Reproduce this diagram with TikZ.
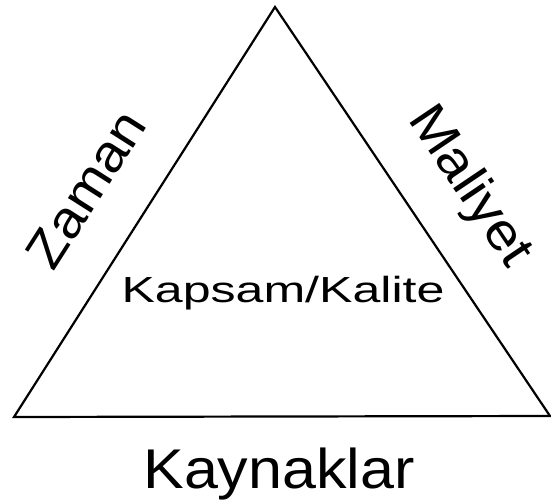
\documentclass[tikz,border=0pt]{standalone}
\usepackage{fontspec}
\setmainfont{Liberation Sans}
\begin{document}
\begin{tikzpicture}[x=1pt,y=-1pt,
  side/.style={line width=2.2pt, line join=miter},
  lbl/.style={inner sep=0pt, font=\fontsize{52}{56}\selectfont}]
\useasboundingbox (0,0) rectangle (551,500);
\coordinate (top) at (275,7);
\coordinate (bl) at (14,417);
\coordinate (br) at (550,416);
\draw[side] (top) -- (br) -- (bl) -- cycle;
\node[lbl, rotate=57.5, xscale=1.08] (zaman) at (86,189) {Zaman};
\node[lbl, rotate=-56, xscale=1.1] (maliyet) at (469,187) {Maliyet};
\node[inner sep=0pt, anchor=base, font=\fontsize{36.3}{40}\selectfont, xscale=1.38] (kapsam) at (283,302) {Kapsam/Kalite};
\node[inner sep=0pt, anchor=base, font=\fontsize{56}{60}\selectfont, xscale=1.09] (kaynak) at (279,488) {Kaynaklar};
\end{tikzpicture}
\end{document}
